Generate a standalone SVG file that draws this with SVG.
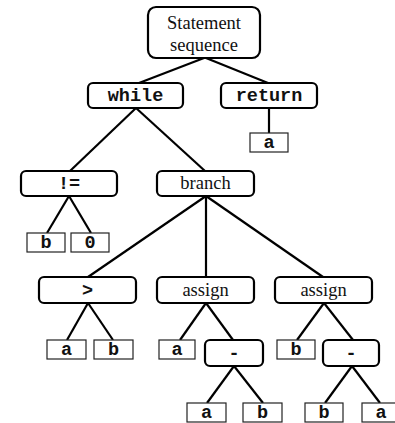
<svg xmlns="http://www.w3.org/2000/svg" width="395" height="423" viewBox="0 0 395 423">
  <style>
    .op { fill: #fff; stroke: #000; stroke-width: 2.2; }
    .leaf { fill: #fff; stroke: #222; stroke-width: 1.2; }
    .edge { stroke: #000; stroke-width: 2.2; fill: none; }
    .serif { font-family: "Liberation Serif", "Times New Roman", serif; font-size: 18.5px; text-anchor: middle; fill: #111; }
    .mono { font-family: "Liberation Mono", "Courier New", monospace; font-weight: bold; font-size: 18.5px; text-anchor: middle; fill: #111; }
  </style>
  <rect width="395" height="423" fill="#fff"/>

  <!-- connectors -->
  <g id="edges" class="edge">
    <line x1="204" y1="58" x2="139" y2="83"/>
    <line x1="206" y1="58" x2="268" y2="83"/>
    <line x1="269" y1="108" x2="269" y2="133"/>
    <line x1="136" y1="108" x2="70" y2="171"/>
    <line x1="136" y1="108" x2="205" y2="171"/>
    <line x1="69" y1="196" x2="47" y2="233"/>
    <line x1="69" y1="196" x2="91" y2="233"/>
    <line x1="206" y1="196" x2="88" y2="277"/>
    <line x1="206" y1="196" x2="206" y2="277"/>
    <line x1="206" y1="196" x2="323" y2="277"/>
    <line x1="88" y1="303" x2="67" y2="340"/>
    <line x1="88" y1="303" x2="113" y2="340"/>
    <line x1="206" y1="303" x2="180" y2="340"/>
    <line x1="206" y1="303" x2="233" y2="340"/>
    <line x1="324" y1="303" x2="297" y2="340"/>
    <line x1="324" y1="303" x2="353" y2="340"/>
    <line x1="234" y1="366" x2="207" y2="403"/>
    <line x1="234" y1="366" x2="263" y2="403"/>
    <line x1="352" y1="366" x2="325" y2="403"/>
    <line x1="352" y1="366" x2="380" y2="403"/>
  </g>

  <g id="root">
    <rect class="op" x="148" y="7" width="112" height="51" rx="8"/>
    <text class="serif" x="204" y="29">Statement</text>
    <text class="serif" x="204" y="51">sequence</text>
  </g>
  <g id="while">
    <rect class="op" x="88" y="83" width="95" height="25" rx="5"/>
    <text class="mono" x="135.5" y="101">while</text>
  </g>
  <g id="return">
    <rect class="op" x="221" y="83" width="96" height="25" rx="5"/>
    <text class="mono" x="269" y="101">return</text>
  </g>
  <g id="ret-a">
    <rect class="leaf" x="250" y="133" width="38" height="19"/>
    <text class="mono" x="269" y="148">a</text>
  </g>
  <g id="neq">
    <rect class="op" x="21" y="171" width="96" height="25" rx="5"/>
    <text class="mono" x="69" y="189">!=</text>
  </g>
  <g id="branch">
    <rect class="op" x="157" y="171" width="97" height="25" rx="5"/>
    <text class="serif" x="205.5" y="189">branch</text>
  </g>
  <g id="neq-b">
    <rect class="leaf" x="27" y="233" width="38" height="19"/>
    <text class="mono" x="46" y="248">b</text>
  </g>
  <g id="neq-0">
    <rect class="leaf" x="71" y="233" width="38" height="19"/>
    <text class="mono" x="90" y="248">0</text>
  </g>
  <g id="gt">
    <rect class="op" x="39" y="277" width="97" height="26" rx="5"/>
    <text class="mono" x="87.5" y="296">&gt;</text>
  </g>
  <g id="assign1">
    <rect class="op" x="157" y="277" width="97" height="26" rx="5"/>
    <text class="serif" x="205.5" y="296">assign</text>
  </g>
  <g id="assign2">
    <rect class="op" x="275" y="277" width="97" height="26" rx="5"/>
    <text class="serif" x="323.5" y="296">assign</text>
  </g>
  <g id="gt-a">
    <rect class="leaf" x="47" y="340" width="39" height="19"/>
    <text class="mono" x="66.5" y="355">a</text>
  </g>
  <g id="gt-b">
    <rect class="leaf" x="94" y="340" width="39" height="19"/>
    <text class="mono" x="113.5" y="355">b</text>
  </g>
  <g id="assign1-a">
    <rect class="leaf" x="159" y="340" width="36" height="19"/>
    <text class="mono" x="177" y="355">a</text>
  </g>
  <g id="minus1">
    <rect class="op" x="205" y="340" width="58" height="26" rx="5"/>
    <text class="mono" x="234" y="359">-</text>
  </g>
  <g id="assign2-b">
    <rect class="leaf" x="277" y="340" width="38" height="19"/>
    <text class="mono" x="296" y="355">b</text>
  </g>
  <g id="minus2">
    <rect class="op" x="323" y="340" width="56" height="26" rx="5"/>
    <text class="mono" x="351" y="359">-</text>
  </g>
  <g id="minus1-a">
    <rect class="leaf" x="187" y="403" width="39" height="19"/>
    <text class="mono" x="206.5" y="418">a</text>
  </g>
  <g id="minus1-b">
    <rect class="leaf" x="243" y="403" width="39" height="19"/>
    <text class="mono" x="262.5" y="418">b</text>
  </g>
  <g id="minus2-b">
    <rect class="leaf" x="305" y="403" width="38" height="19"/>
    <text class="mono" x="324" y="418">b</text>
  </g>
  <g id="minus2-a">
    <rect class="leaf" x="362" y="403" width="38" height="19"/>
    <text class="mono" x="381" y="418">a</text>
  </g>
</svg>
